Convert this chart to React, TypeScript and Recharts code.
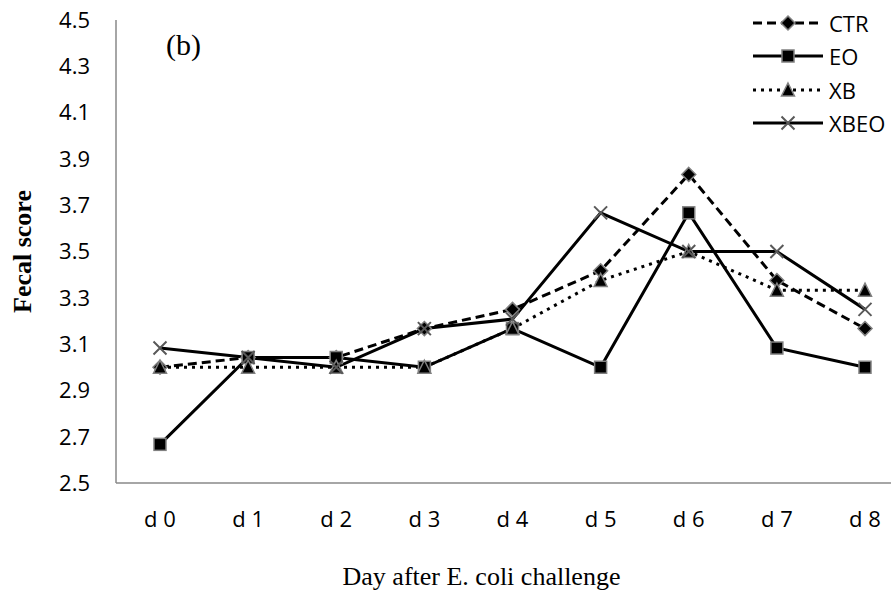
import React from 'react'
import { LineChart, Line, XAxis, YAxis, Legend } from 'recharts'

// Fecal score by day after E. coli challenge, panel (b)
const days = ['d 0', 'd 1', 'd 2', 'd 3', 'd 4', 'd 5', 'd 6', 'd 7', 'd 8']
const ctr = [3.0, 3.042, 3.042, 3.167, 3.25, 3.417, 3.833, 3.375, 3.167]
const eo = [2.667, 3.042, 3.042, 3.0, 3.167, 3.0, 3.667, 3.083, 3.0]
const xb = [3.0, 3.0, 3.0, 3.0, 3.167, 3.375, 3.5, 3.333, 3.333]
const xbeo = [3.083, 3.042, 3.0, 3.167, 3.208, 3.667, 3.5, 3.5, 3.25]
const yTicks = [2.5, 2.7, 2.9, 3.1, 3.3, 3.5, 3.7, 3.9, 4.1, 4.3, 4.5]

const chartData = days.map((day, i) => ({
  day,
  CTR: ctr[i],
  EO: eo[i],
  XB: xb[i],
  XBEO: xbeo[i],
}))

const SANS = '"Open Sans", sans-serif'
const SERIF = '"Liberation Serif", "Times New Roman", serif'
const AXIS_GRAY = '#898989'
const MARK_EDGE = '#808080'

type MarkProps = { cx?: number; cy?: number }

const Diamond = ({ cx = 0, cy = 0 }: MarkProps) => (
  <path
    d={`M${cx},${cy - 7} L${cx + 7},${cy} L${cx},${cy + 7} L${cx - 7},${cy} Z`}
    fill="#000"
    stroke={MARK_EDGE}
    strokeWidth={1.5}
  />
)

const Square = ({ cx = 0, cy = 0 }: MarkProps) => (
  <rect x={cx - 6} y={cy - 6} width={12} height={12} fill="#000" stroke={MARK_EDGE} strokeWidth={1.5} />
)

const Triangle = ({ cx = 0, cy = 0 }: MarkProps) => (
  <path
    d={`M${cx},${cy - 7} L${cx + 6.5},${cy + 6} L${cx - 6.5},${cy + 6} Z`}
    fill="#000"
    stroke={MARK_EDGE}
    strokeWidth={1.5}
  />
)

const Cross = ({ cx = 0, cy = 0 }: MarkProps) => (
  <path
    d={`M${cx - 6.5},${cy - 6.5} L${cx + 6.5},${cy + 6.5} M${cx - 6.5},${cy + 6.5} L${cx + 6.5},${cy - 6.5}`}
    stroke="#595959"
    strokeWidth={2}
    fill="none"
  />
)

const series = [
  { key: 'CTR', dash: '9 5', Mark: Diamond },
  { key: 'EO', dash: undefined, Mark: Square },
  { key: 'XB', dash: '3 5', Mark: Triangle },
  { key: 'XBEO', dash: undefined, Mark: Cross },
]

const renderLegend = () => (
  <div style={{ fontFamily: SANS, fontSize: 22, color: '#000' }}>
    {series.map(({ key, dash, Mark }) => (
      <div key={key} style={{ display: 'flex', alignItems: 'center', height: 33.5 }}>
        <svg width={70} height={20} style={{ display: 'block' }}>
          <line x1={0} y1={10} x2={70} y2={10} stroke="#000" strokeWidth={3} strokeDasharray={dash} />
          <Mark cx={35} cy={10} />
        </svg>
        <span style={{ marginLeft: 6, lineHeight: 1 }}>{key}</span>
      </div>
    ))}
  </div>
)

export default function App() {
  return (
    <div style={{ position: 'absolute', left: 0, top: 0, width: 891, height: 595, background: '#fff' }}>
      <LineChart width={891} height={595} data={chartData} margin={{ top: 20, right: 0, bottom: 0, left: 0 }}>
        <XAxis
          dataKey="day"
          height={112}
          padding={{ left: 44, right: 26 }}
          axisLine={{ stroke: AXIS_GRAY, strokeWidth: 1.5 }}
          tickLine={false}
          tickSize={0}
          tickMargin={28}
          tick={{ fill: '#000', fontSize: 22, fontFamily: SANS }}
          label={{
            value: 'Day after E. coli challenge',
            position: 'center',
            dx: -22,
            dy: 37,
            style: { fill: '#000', fontSize: 26, fontFamily: SERIF },
          }}
        />
        <YAxis
          width={116}
          domain={[2.5, 4.5]}
          ticks={yTicks}
          interval={0}
          tickFormatter={(v: number) => v.toFixed(1)}
          axisLine={{ stroke: AXIS_GRAY, strokeWidth: 1.5 }}
          tickLine={false}
          tickSize={0}
          tickMargin={26}
          tick={{ fill: '#000', fontSize: 22, fontFamily: SANS }}
          label={{
            value: 'Fecal score',
            angle: -90,
            position: 'center',
            dx: -36,
            style: { fill: '#000', fontSize: 26, fontWeight: 'bold', fontFamily: SERIF, textAnchor: 'middle' },
          }}
        />
        <Legend
          layout="vertical"
          align="center"
          verticalAlign="middle"
          content={renderLegend}
          wrapperStyle={{ top: 6, left: 753, width: 138, height: 134 }}
        />
        {series.map(({ key, dash, Mark }) => (
          <Line
            key={key}
            dataKey={key}
            type="linear"
            stroke="#000"
            strokeWidth={3}
            strokeDasharray={dash}
            dot={(p: any) => <Mark key={`${key}-${p.index}`} cx={p.cx} cy={p.cy} />}
            activeDot={false}
            isAnimationActive={false}
          />
        ))}
      </LineChart>
      <div
        style={{
          position: 'absolute',
          left: 166,
          top: 30,
          fontFamily: SERIF,
          fontSize: 30,
          lineHeight: '30px',
          color: '#000',
        }}
      >
        (b)
      </div>
    </div>
  )
}
